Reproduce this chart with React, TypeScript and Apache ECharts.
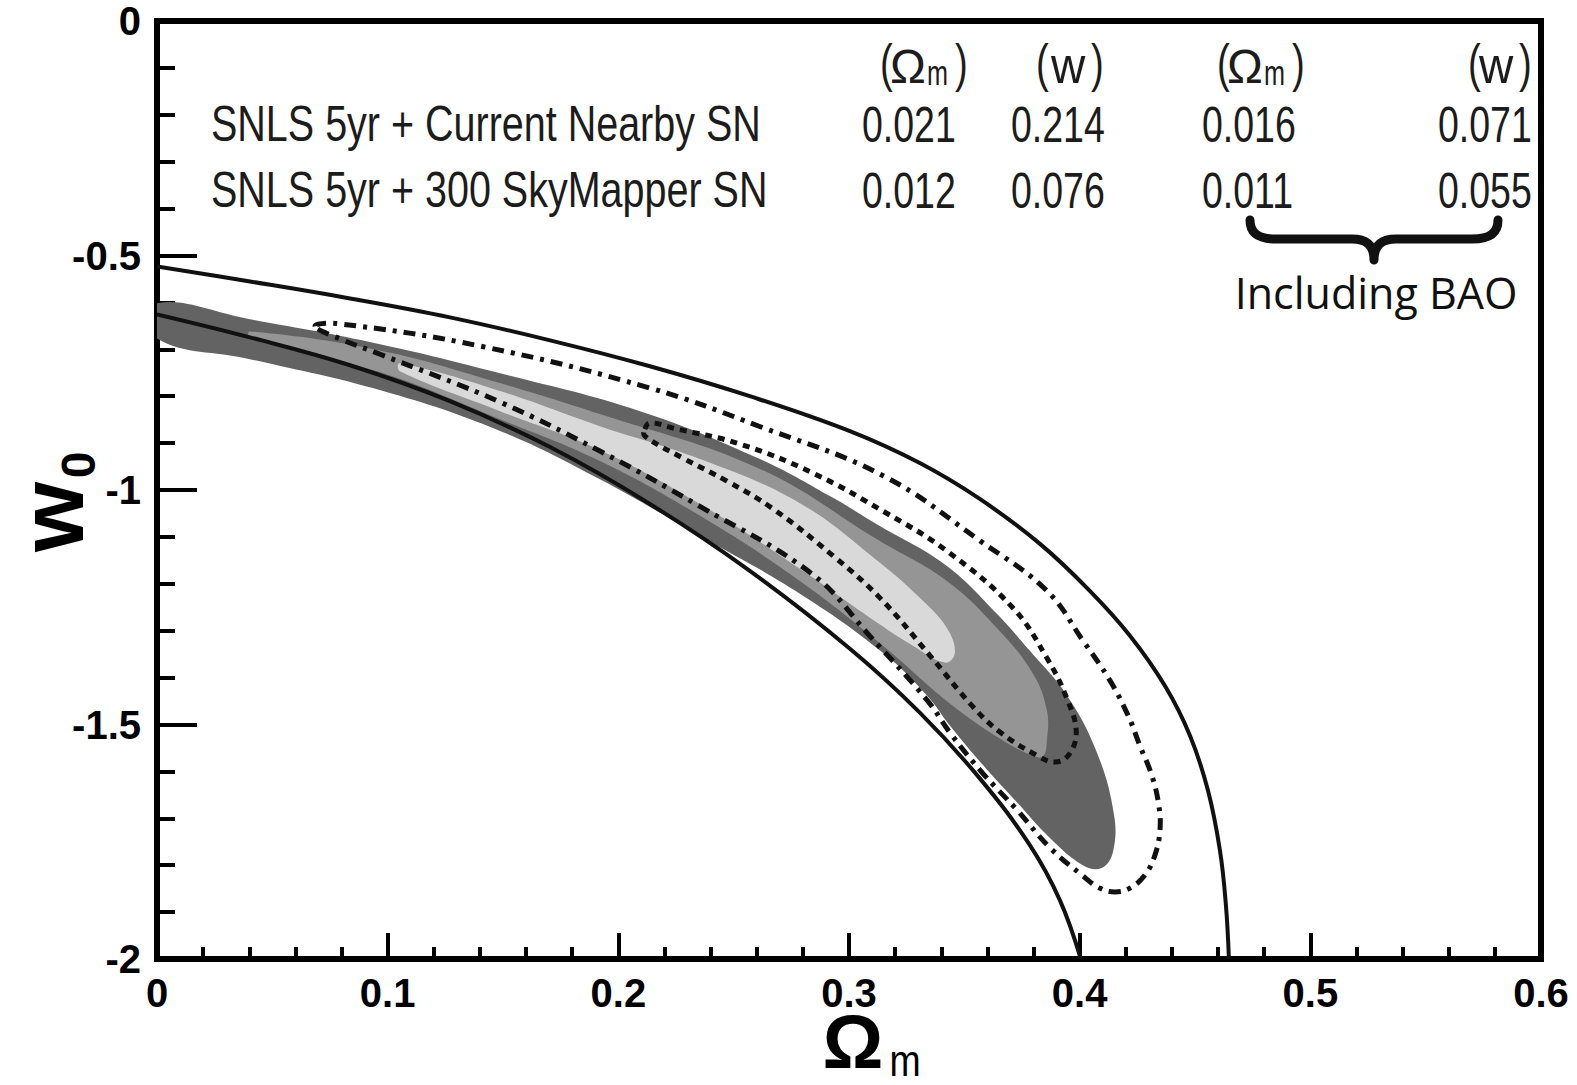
import React, { useEffect, useRef } from "react";
import * as echarts from "echarts";

type P = [number, number];

// Axis ranges and ticks
const xRange: P = [0, 0.6];
const xStep = 0.1;
const yRange: P = [-2, 0];
const yStep = 0.5;

// Outer solid contour (two branches, clipped by the frame)
const outerSolidUpper: P[] = [
  [0, -0.5234], [0.0403, -0.5553], [0.0837, -0.5915], [0.127, -0.6319], [0.1704, -0.6809],
  [0.2137, -0.7362], [0.257, -0.8], [0.3004, -0.8745], [0.3307, -0.9426], [0.3567, -1.0191],
  [0.3828, -1.1149], [0.4044, -1.2149], [0.4218, -1.3106], [0.4369, -1.417], [0.4478, -1.5234],
  [0.4556, -1.6404], [0.4608, -1.7681], [0.4634, -1.8851], [0.4647, -2.0],
];
const outerSolidLower: P[] = [
  [0, -0.6255], [0.0403, -0.6745], [0.0837, -0.734], [0.127, -0.8106], [0.1704, -0.9085],
  [0.2137, -1.0298], [0.257, -1.1723], [0.3004, -1.3383], [0.3307, -1.4745], [0.3567, -1.6149],
  [0.3784, -1.7574], [0.3914, -1.8745], [0.4005, -2.0],
];

// Dash-dot closed contour
const dashDotContour: P[] = [
  [0.0685, -0.651], [0.078, -0.645], [0.141, -0.694], [0.214, -0.783], [0.261, -0.864],
  [0.315, -0.97], [0.357, -1.109], [0.3858, -1.215], [0.4014, -1.321], [0.4131, -1.406],
  [0.421, -1.481], [0.4261, -1.545], [0.4313, -1.609], [0.4343, -1.672], [0.4348, -1.726],
  [0.4326, -1.779], [0.4283, -1.821], [0.4218, -1.849], [0.4153, -1.857], [0.4088, -1.849],
  [0.4014, -1.823], [0.387, -1.762], [0.373, -1.683], [0.358, -1.604], [0.344, -1.519],
  [0.334, -1.449], [0.309, -1.311], [0.284, -1.179], [0.235, -1.034], [0.192, -0.917],
  [0.149, -0.813], [0.097, -0.711], [0.079, -0.677],
];

// Dotted closed contour
const dottedContour: P[] = [
  [0.2115, -0.87], [0.2137, -0.857], [0.2237, -0.868], [0.2527, -0.902], [0.2844, -0.964],
  [0.3147, -1.045], [0.3424, -1.13], [0.371, -1.251], [0.386, -1.36], [0.3945, -1.445],
  [0.3985, -1.515], [0.3955, -1.563], [0.3895, -1.58], [0.3815, -1.566], [0.3654, -1.516],
  [0.3537, -1.462], [0.3351, -1.353], [0.3134, -1.23], [0.293, -1.14], [0.267, -1.04],
  [0.2471, -0.981], [0.228, -0.932], [0.2115, -0.885],
];

// Filled confidence regions
const darkRegion: P[] = [
  [0, -0.602], [0.0403, -0.636], [0.0967, -0.689], [0.1487, -0.751], [0.2094, -0.832],
  [0.2614, -0.934], [0.2917, -1.013], [0.3134, -1.077], [0.3424, -1.162], [0.3641, -1.264],
  [0.3784, -1.343], [0.3945, -1.438], [0.4075, -1.56], [0.4148, -1.69], [0.4145, -1.77],
  [0.4095, -1.806], [0.4014, -1.8], [0.3871, -1.742], [0.3728, -1.666], [0.358, -1.586],
  [0.3437, -1.502], [0.3338, -1.438], [0.3147, -1.347], [0.2787, -1.221], [0.2354, -1.098],
  [0.192, -0.977], [0.1487, -0.874], [0.098, -0.789], [0.0403, -0.721], [0, -0.677],
];
const mediumRegion: P[] = [
  [0.0403, -0.662], [0.098, -0.704], [0.1487, -0.772], [0.192, -0.838], [0.2614, -0.955],
  [0.3134, -1.109], [0.3424, -1.194], [0.3641, -1.294], [0.3797, -1.391], [0.3858, -1.47],
  [0.3858, -1.534], [0.384, -1.568], [0.3784, -1.564], [0.3654, -1.53], [0.3437, -1.455],
  [0.3147, -1.332], [0.2787, -1.194], [0.2354, -1.055], [0.192, -0.938], [0.1487, -0.849],
  [0.098, -0.751], [0.0403, -0.677],
];
const lightRegion: P[] = [
  [0.1053, -0.73], [0.1487, -0.789], [0.192, -0.864], [0.2354, -0.934], [0.2787, -1.028],
  [0.3134, -1.155], [0.3307, -1.23], [0.3424, -1.294], [0.3459, -1.347], [0.3416, -1.368],
  [0.3277, -1.332], [0.3134, -1.287], [0.2787, -1.168], [0.2354, -1.03], [0.192, -0.915],
  [0.1487, -0.832], [0.1053, -0.747],
];

// Table texts
const tableRowLabels = ["SNLS 5yr + Current Nearby SN", "SNLS 5yr + 300 SkyMapper SN"];
const tableValues = [
  ["0.021", "0.214", "0.016", "0.071"],
  ["0.012", "0.076", "0.011", "0.055"],
];
const tableHeaders = ["Ωm", "w", "Ωm", "w"];
const braceLabel = "Including BAO";
const xTitle = ["Ω", "m"];
const yTitle = ["w", "0"];

const BRACE_D =
  "M0 0 C0 13 8 19 26 19 L102 19 C116 19 124 25 124 40 C124 25 132 19 146 19 L222 19 C240 19 248 13 248 0";

let braceRegistered = false;

const TEXT_COLOR = "#1c1c1c";
const COND = '"Liberation Sans", Arial, sans-serif';

function txt(
  text: string,
  x: number,
  y: number,
  fontSize: number,
  opts: { sx?: number; align?: string; weight?: string; family?: string; rot?: number; color?: string; lh?: number } = {}
) {
  const align = opts.align || "left";
  return {
    type: "text",
    x,
    y,
    scaleX: opts.sx ?? 1,
    rotation: opts.rot ?? 0,
    silent: true,
    z: 100,
    style: {
      text,
      fontSize,
      fontWeight: opts.weight || "normal",
      fontFamily: opts.family || COND,
      fill: opts.color || TEXT_COLOR,
      lineHeight: opts.lh,
      textAlign: align,
      align,
      textVerticalAlign: "middle",
      verticalAlign: "middle",
    },
  };
}

function headerEls(sym: string, x0: number, wideW: boolean): any[] {
  if (sym === "Ωm") {
    return [
      txt("(", x0, 63, 51, { sx: 0.75 }),
      txt("Ω", x0 + 10, 66, 48, { sx: 1.0 }),
      txt("m", x0 + 47, 73, 36, { sx: 0.7 }),
      txt(")", x0 + 75, 63, 51, { sx: 0.75 }),
    ];
  }
  const gap = wideW ? 15 : 11;
  return [
    txt("(", x0, 63, 51, { sx: 0.75 }),
    txt("w", x0 + gap, 66, 50, { sx: 0.95 }),
    txt(")", x0 + gap + 40, 63, 51, { sx: 0.75 }),
  ];
}

function polySeries(pts: P[], closed: boolean, style: any, z: number) {
  return {
    type: "custom",
    coordinateSystem: "cartesian2d",
    data: [[pts[0][0], pts[0][1]]],
    clip: true,
    silent: true,
    z,
    renderItem: (_params: any, api: any) => ({
      type: closed ? "polygon" : "polyline",
      shape: { points: pts.map((p) => api.coord(p)), smooth: 0.4 },
      style,
    }),
  };
}

export default function App() {
  const ref = useRef<HTMLDivElement>(null);

  useEffect(() => {
    if (!ref.current) return;
    if (!braceRegistered) {
      echarts.graphic.registerShape("brace", echarts.graphic.extendPath(BRACE_D, {}) as any);
      braceRegistered = true;
    }
    const chart = echarts.init(ref.current, undefined, { renderer: "svg" });

    const headerX = [880, 1036, 1217, 1468];
    const valueX = [862, 1011, 1202, 1438];
    const rowY = [124, 190];

    const graphics: any[] = [];
    tableHeaders.forEach((h, i) => graphics.push(...headerEls(h, headerX[i], i === 1)));
    tableRowLabels.forEach((l, r) => {
      graphics.push(txt(l, 211, rowY[r], 50, { sx: 0.79 }));
      tableValues[r].forEach((v, c) => graphics.push(txt(v, valueX[c], rowY[r], 50, { sx: 0.75 })));
    });
    graphics.push({
      type: "brace",
      x: 1250,
      y: 220,
      silent: true,
      z: 100,
      style: { fill: "none", stroke: "#111", lineWidth: 9, lineCap: "round", lineJoin: "round" },
    });
    graphics.push(txt(braceLabel, 1376, 292, 43, { align: "center", family: '"Open Sans", sans-serif', color: "#111" }));
    // axis titles
    const bold = '"Liberation Sans", Arial, sans-serif';
    graphics.push(txt(xTitle[0], 853, 1041, 76, { align: "center", weight: "bold", family: bold, color: "#000", lh: 56 }));
    graphics.push(txt(xTitle[1], 905, 1061, 44, { align: "center", family: bold, color: "#000", sx: 0.85, lh: 30 }));
    graphics.push(txt(yTitle[0], 52, 517, 90, { align: "center", weight: "bold", family: bold, color: "#000", rot: Math.PI / 2, lh: 60 }));
    graphics.push(txt(yTitle[1], 78, 465, 48, { align: "center", weight: "bold", family: bold, color: "#000", rot: Math.PI / 2, lh: 36 }));

    const axisFont = {
      fontSize: 40,
      fontWeight: "bold",
      fontFamily: bold,
      color: "#000",
      lineHeight: 28,
    };

    chart.setOption({
      animation: false,
      backgroundColor: "#fff",
      grid: {
        left: 157,
        right: 36,
        top: 19,
        bottom: 126,
        show: true,
        borderColor: "#000",
        borderWidth: 6,
        backgroundColor: "transparent",
      },
      xAxis: {
        type: "value",
        min: xRange[0],
        max: xRange[1],
        interval: xStep,
        axisLine: { show: true, onZero: false, lineStyle: { color: "#000", width: 6 } },
        axisTick: { show: true, inside: true, length: 26, lineStyle: { color: "#000", width: 4 } },
        minorTick: { show: true, splitNumber: 5, length: 12, lineStyle: { color: "#000", width: 4 } },
        splitLine: { show: false },
        axisLabel: { ...axisFont, margin: 20 },
      },
      yAxis: {
        type: "value",
        min: yRange[0],
        max: yRange[1],
        interval: yStep,
        axisLine: { show: true, onZero: false, lineStyle: { color: "#000", width: 6 } },
        axisTick: { show: true, inside: true, length: 40, lineStyle: { color: "#000", width: 4 } },
        minorTick: { show: true, splitNumber: 5, length: 18, lineStyle: { color: "#000", width: 4 } },
        splitLine: { show: false },
        axisLabel: { ...axisFont, margin: 16, padding: [14, 0, 0, 0] },
      },
      series: [
        polySeries(darkRegion, true, { fill: "#636363" }, 1),
        polySeries(mediumRegion, true, { fill: "#959595" }, 2),
        polySeries(lightRegion, true, { fill: "#d9d9d9" }, 3),
        polySeries(outerSolidUpper, false, { fill: "none", stroke: "#111", lineWidth: 4 }, 5),
        polySeries(outerSolidLower, false, { fill: "none", stroke: "#111", lineWidth: 4 }, 5),
        polySeries(dashDotContour, true, { fill: "none", stroke: "#111", lineWidth: 5, lineDash: [12, 7, 4, 7] }, 6),
        polySeries(dottedContour, true, { fill: "none", stroke: "#111", lineWidth: 5, lineDash: [7, 6] }, 6),
      ],
      graphic: { elements: graphics },
    });

    return () => {
      chart.dispose();
    };
  }, []);

  return (
    <div
      ref={ref}
      style={{ position: "fixed", left: 0, top: 0, width: 1577, height: 1085, background: "#fff" }}
    />
  );
}
